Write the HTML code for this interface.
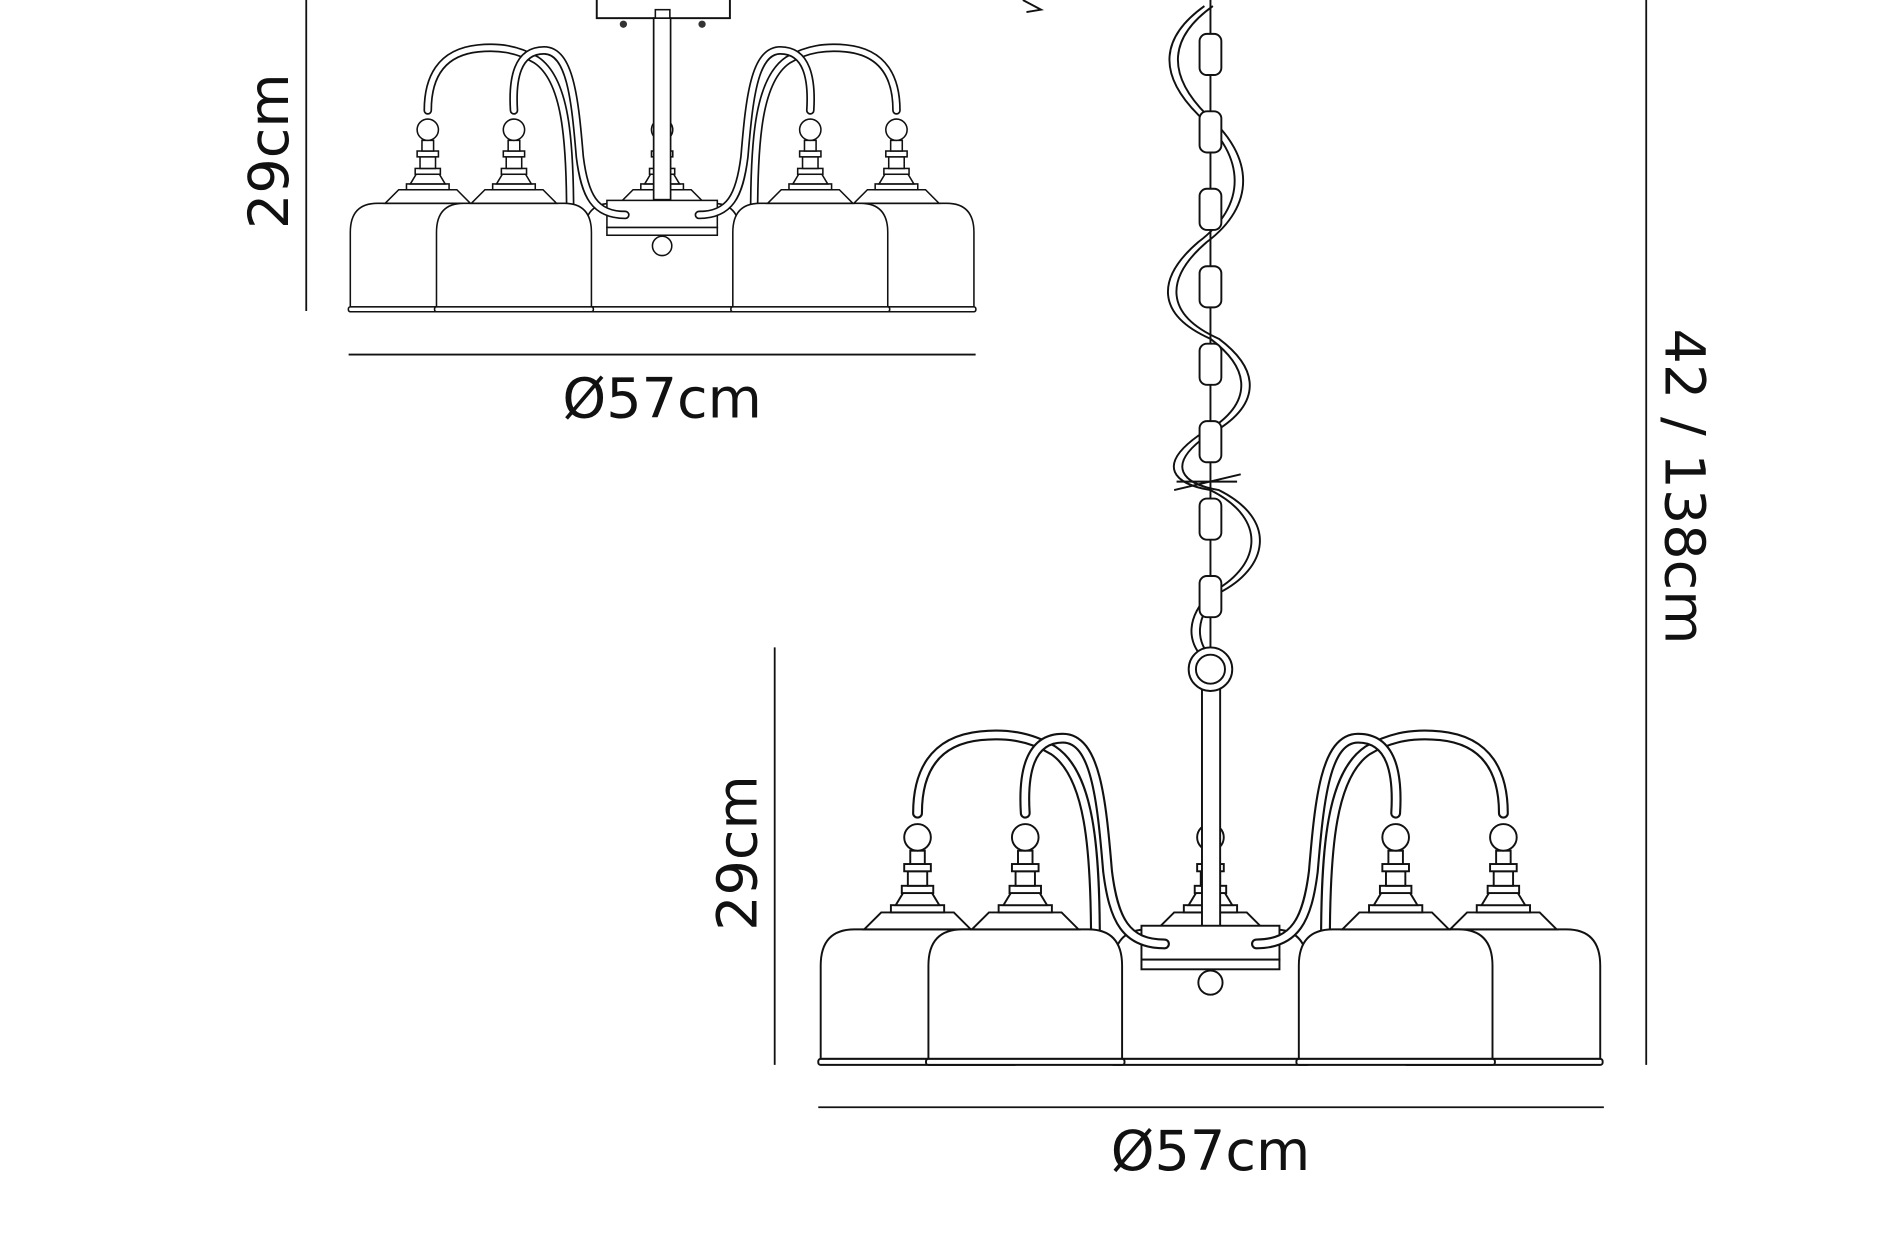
<!DOCTYPE html>
<html><head><meta charset="utf-8"><style>
html,body{margin:0;padding:0;background:#fff;}
svg{display:block;}
text{font-family:"DejaVu Sans","Liberation Sans",sans-serif;fill:#111;}
</style></head><body>
<svg width="1898" height="1244" viewBox="0 0 1568 1028" preserveAspectRatio="none" xmlns="http://www.w3.org/2000/svg">
<defs>
  <g id="cone" fill="#fff" stroke="#111" stroke-width="1.6">
    <path d="M-44,0 L-30,-14 L30,-14 L44,0 Z"/>
    <rect x="-22" y="-20" width="44" height="6"/>
    <path d="M-18,-20 L-12,-30 L12,-30 L18,-20 Z"/>
    <rect x="-13" y="-36" width="26" height="6"/>
    <rect x="-8" y="-48" width="16" height="12"/>
    <rect x="-11" y="-54" width="22" height="6"/>
    <rect x="-6" y="-65" width="12" height="11"/>
    <circle cx="0" cy="-76" r="11"/>
  </g>
  <g id="shade" fill="#fff" stroke="#111" stroke-width="1.6">
    <path d="M-52,0 L52,0 Q80,0 80,30 L80,107 L-80,107 L-80,30 Q-80,0 -52,0 Z"/>
    <rect x="-82" y="107" width="164" height="5" rx="2"/>
    <use href="#cone"/>
  </g>
  <g id="fixture">
    <use href="#shade" transform="translate(1000,768)"/>
    <use href="#shade" transform="translate(758,768)"/>
    <use href="#shade" transform="translate(1242,768)"/>
    <g fill="none" stroke-linecap="round">
      <path d="M905,780 C905,700 900,640 870,620 C850,608 830,606 810,608 C770,612 758,640 758,672" stroke="#111" stroke-width="9"/>
      <path d="M905,780 C905,700 900,640 870,620 C850,608 830,606 810,608 C770,612 758,640 758,672" stroke="#fff" stroke-width="5.5"/>
      <path d="M1095,780 C1095,700 1100,640 1130,620 C1150,608 1170,606 1190,608 C1230,612 1242,640 1242,672" stroke="#111" stroke-width="9"/>
      <path d="M1095,780 C1095,700 1100,640 1130,620 C1150,608 1170,606 1190,608 C1230,612 1242,640 1242,672" stroke="#fff" stroke-width="5.5"/>
    </g>
    <rect x="993" y="568" width="15" height="200" fill="#fff" stroke="#111" stroke-width="1.6"/>
    <rect x="943" y="765" width="114" height="28" fill="#fff" stroke="#111" stroke-width="1.6"/>
    <rect x="943" y="793" width="114" height="8" fill="#fff" stroke="#111" stroke-width="1.6"/>
    <circle cx="1000" cy="812" r="10" fill="#fff" stroke="#111" stroke-width="1.6"/>
    <g fill="none" stroke-linecap="round">
      <path d="M962,780 C930,780 920,760 915,720 C910,660 905,610 878,610 C850,610 845,640 847,672" stroke="#111" stroke-width="9"/>
      <path d="M962,780 C930,780 920,760 915,720 C910,660 905,610 878,610 C850,610 845,640 847,672" stroke="#fff" stroke-width="5.5"/>
      <path d="M1038,780 C1070,780 1080,760 1085,720 C1090,660 1095,610 1122,610 C1150,610 1155,640 1153,672" stroke="#111" stroke-width="9"/>
      <path d="M1038,780 C1070,780 1080,760 1085,720 C1090,660 1095,610 1122,610 C1150,610 1155,640 1153,672" stroke="#fff" stroke-width="5.5"/>
    </g>
    <use href="#shade" transform="translate(847,768)"/>
    <use href="#shade" transform="translate(1153,768)"/>
  </g>
</defs>

<rect x="493" y="-4" width="110" height="19" fill="#fff" stroke="#111" stroke-width="1.6"/>
<circle cx="515" cy="20" r="3" fill="#333"/><circle cx="580" cy="20" r="3" fill="#333"/>
<g transform="translate(547,168) scale(0.8) translate(-1000,-768)">
  <use href="#fixture"/>
</g>
<rect x="540" y="15" width="14" height="150" fill="#fff" stroke="#111" stroke-width="1.4"/>

<use href="#fixture"/>

<g fill="none" stroke="#111" stroke-width="1.6">
  <path d="M995,5 C960,30 955,60 990,95 C1030,130 1030,170 990,200 C955,230 955,260 1000,280 C1040,310 1030,340 990,360 C955,385 970,400 1000,405 C1050,430 1040,470 1000,490 C980,510 980,530 995,545"/>
  <path d="M1002,5 C967,30 962,60 997,95 C1037,130 1037,170 997,200 C962,230 962,260 1007,280 C1047,310 1037,340 997,360 C962,385 977,400 1007,405 C1057,430 1047,470 1007,490 C987,510 987,530 1002,545"/>
  <path d="M970,405 L1025,392 M972,398 L1022,398"/>
</g>
<g fill="#fff" stroke="#111" stroke-width="1.6">
  <line x1="1000" y1="0" x2="1000" y2="540"/>
  <rect x="991" y="28" width="18" height="34" rx="6"/>
  <rect x="991" y="92" width="18" height="34" rx="6"/>
  <rect x="991" y="156" width="18" height="34" rx="6"/>
  <rect x="991" y="220" width="18" height="34" rx="6"/>
  <rect x="991" y="284" width="18" height="34" rx="6"/>
  <rect x="991" y="348" width="18" height="34" rx="6"/>
  <rect x="991" y="412" width="18" height="34" rx="6"/>
  <rect x="991" y="476" width="18" height="34" rx="6"/>
  <circle cx="1000" cy="553" r="18"/>
  <circle cx="1000" cy="553" r="12"/>
</g>
<path d="M845,0 L860,8 L848,10" fill="none" stroke="#111" stroke-width="1.6"/>

<g stroke="#111" stroke-width="1.5">
  <line x1="253" y1="0" x2="253" y2="257"/>
  <line x1="288" y1="293" x2="806" y2="293"/>
  <line x1="640" y1="535" x2="640" y2="880"/>
  <line x1="676" y1="915" x2="1325" y2="915"/>
  <line x1="1360" y1="0" x2="1360" y2="880"/>
</g>
<text x="547" y="345" font-size="46" text-anchor="middle">Ø57cm</text>
<text x="1000" y="967" font-size="46" text-anchor="middle">Ø57cm</text>
<text transform="translate(238,125) rotate(-90)" font-size="46" text-anchor="middle">29cm</text>
<text transform="translate(625,705) rotate(-90)" font-size="46" text-anchor="middle">29cm</text>
<text transform="translate(1376,402) rotate(90)" font-size="46" text-anchor="middle">42 / 138cm</text>
</svg>
</body></html>
